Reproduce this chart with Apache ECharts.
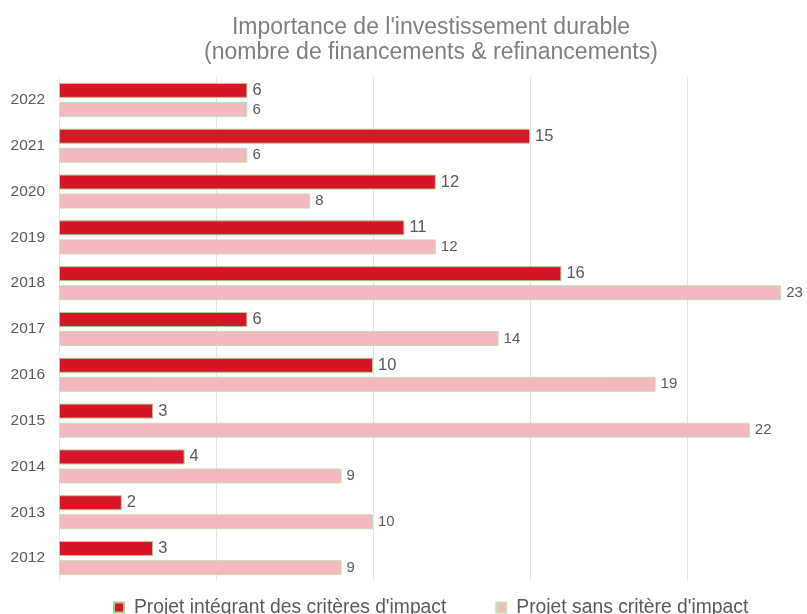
<!DOCTYPE html>
<html>
<head>
<meta charset="utf-8">
<script src="https://cdn.jsdelivr.net/npm/echarts@6/dist/echarts.min.js"></script>
<style>
  html, body { margin: 0; padding: 0; background: #fff; }
  #chart { width: 807px; height: 614px; }
</style>
</head>
<body>
<div id="chart"></div>
<script>
const years = ['2012', '2013', '2014', '2015', '2016', '2017', '2018', '2019', '2020', '2021', '2022']
const avecImpact = [3, 2, 4, 3, 10, 6, 16, 11, 12, 15, 6]
const sansImpact = [9, 10, 9, 22, 19, 14, 23, 12, 8, 6, 6]
const seriesNames = ["Projet intégrant des critères d'impact", "Projet sans critère d'impact"]

const chart = echarts.init(document.getElementById('chart'))

const option = {
  animation: false,
  textStyle: { fontFamily: 'Liberation Sans, Arial, sans-serif' },
  title: {
    text: "Importance de l'investissement durable\n(nombre de financements & refinancements)",
    left: 426,
    top: 10,
    textAlign: 'center',
    textStyle: {
      fontSize: 23,
      fontWeight: 'normal',
      color: '#7f7f7f',
      lineHeight: 25
    }
  },
  legend: {
    left: 108,
    top: 593,
    itemWidth: 10,
    itemHeight: 10,
    itemGap: 49,
    icon: 'rect',
    textStyle: { fontSize: 19.3, color: '#595959', padding: [0, 0, 0, 5] },
    data: seriesNames
  },
  grid: {
    left: 59,
    right: -37,
    top: 77,
    bottom: 33,
    containLabel: false,
    outerBoundsMode: 'none'
  },
  xAxis: {
    type: 'value',
    min: 0,
    max: 25,
    interval: 5,
    axisLabel: { show: false },
    axisLine: { show: false },
    axisTick: { show: false },
    splitLine: { lineStyle: { color: '#e4e4e4', width: 1 } }
  },
  yAxis: {
    type: 'category',
    data: years,
    axisLine: { show: false },
    axisTick: { show: false },
    axisLabel: { fontSize: 15.5, color: '#595959', margin: 14 }
  },
  series: [
    {
      name: seriesNames[0],
      type: 'bar',
      data: avecImpact,
      barWidth: 15,
      barGap: '27%',
      z: 3,
      itemStyle: { color: '#d51528', borderColor: '#a9d18e', borderWidth: 1 },
      label: { show: true, position: 'right', distance: 5, fontSize: 16.5, color: '#595959' }
    },
    {
      name: seriesNames[1],
      type: 'bar',
      data: sansImpact,
      barWidth: 15,
      z: 2,
      itemStyle: { color: '#f2b8be', borderColor: '#c5e0b4', borderWidth: 1 },
      label: { show: true, position: 'right', distance: 5, fontSize: 15, color: '#595959' }
    }
  ]
}

chart.setOption(option)
</script>
</body>
</html>
